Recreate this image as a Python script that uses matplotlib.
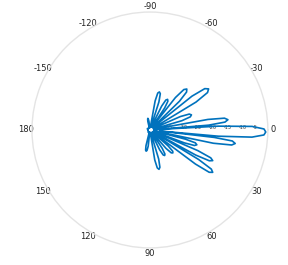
import numpy as np
import matplotlib
matplotlib.use("Agg")
import matplotlib.pyplot as plt

# pattern samples: angle in degrees (positive = clockwise / below), gain in dB
angle_deg = [
    -180, -150, -125, -110,
    -106, -103.5, -101.5, -100, -98.5, -96.5, -94,
    -88,
    -81, -79.8, -78, -76, -74, -72.2, -71,
    -68,
    -65, -63.8, -62, -60, -58, -56.2, -55,
    -53, -51.8, -50, -48, -46, -44.2, -43,
    -40, -38.8, -37, -35, -33, -31.2, -30,
    -25, -23.8, -22, -20, -18, -16.2, -15,
    -11, -10.3, -9, -7.5, -6, -4.7, -4,
    -3.2, -2, -0.5, 1, 2.5, 4, 5.2, 6,
    6.6, 7.6, 9, 10.4, 11.8, 13,
    13.5, 14.5, 15.8, 17.5, 19.2, 20.5, 21.5,
    22.5, 23.3, 24.6, 26, 27.4, 28.7, 29.5,
    30.5, 31.2, 32.5, 34, 35.5, 36.8, 37.8,
    40, 41.2, 43, 45, 47, 48.8, 50,
    55, 56.2, 58, 60, 62, 63.8, 65,
    72, 73.2, 75, 77, 79, 80.8, 82,
    94, 96, 98, 100, 102, 104, 106,
    125, 150, 180,
]
gain_db = [
    -39.3, -39.0, -39.3, -39.0,
    -39.3, -37.0, -36.2, -36.0, -36.2, -37.0, -39.3,
    -39.0,
    -39.0, -30.0, -27.2, -26.7, -27.2, -30.0, -39.0,
    -38.7,
    -38.7, -31.0, -28.5, -28.0, -28.5, -31.0, -38.7,
    -38.7, -26.0, -22.1, -21.3, -22.1, -26.0, -38.7,
    -38.7, -21.7, -16.7, -15.7, -16.7, -21.7, -38.7,
    -38.7, -28.7, -25.6, -25.0, -25.6, -28.7, -38.7,
    -38.7, -20.0, -14.4, -13.3, -14.4, -20.0, -38.0,
    -16.7, -5.3, -1.3, -0.7, -1.3, -5.3, -16.7, -36.7,
    -18.0, -11.8, -10.7, -11.8, -18.0, -38.7,
    -38.7, -27.5, -24.0, -23.3, -24.0, -27.5, -38.7,
    -38.7, -22.3, -17.3, -16.3, -17.3, -22.3, -38.7,
    -38.7, -20.7, -15.3, -14.3, -15.3, -20.7, -38.7,
    -38.7, -31.7, -29.4, -29.0, -29.4, -31.7, -38.7,
    -39.0, -32.5, -30.4, -30.0, -30.4, -32.5, -39.0,
    -39.0, -29.7, -26.9, -26.3, -26.9, -29.7, -39.0,
    -39.3, -34.5, -33.0, -32.7, -33.0, -34.5, -39.3,
    -39.0, -39.3, -39.3,
]

theta_ticks = [0, 30, 60, 90, 120, 150, 180, 210, 240, 270, 300, 330]
theta_labels = ["0", "30", "60", "90", "120", "150", "180",
                "-150", "-120", "-90", "-60", "-30"]
r_ticks = [-35, -30, -25, -20, -15, -10, -5]

fig = plt.figure(figsize=(2.88, 2.65), dpi=100)
ax = fig.add_axes([0.111, 0.064, 0.819, 0.891], projection="polar")
ax.set_theta_zero_location("E")
ax.set_theta_direction(-1)

ax.plot(np.deg2rad(angle_deg), gain_db, color="#0072BD", lw=1.2)

ax.set_ylim(-40, 0)
ax.set_thetagrids(theta_ticks, theta_labels, fontsize=6, color="#222222")
ax.set_rticks(r_ticks)
ax.set_yticklabels([str(v) for v in r_ticks], fontsize=3.5, color="#333333")
ax.set_rlabel_position(0)
ax.tick_params(axis="x", pad=-3, length=0)
ax.grid(False)
ax.spines["polar"].set_color("#e4e4e4")
ax.spines["polar"].set_linewidth(1.0)

fig.savefig("out.png", dpi=100)
